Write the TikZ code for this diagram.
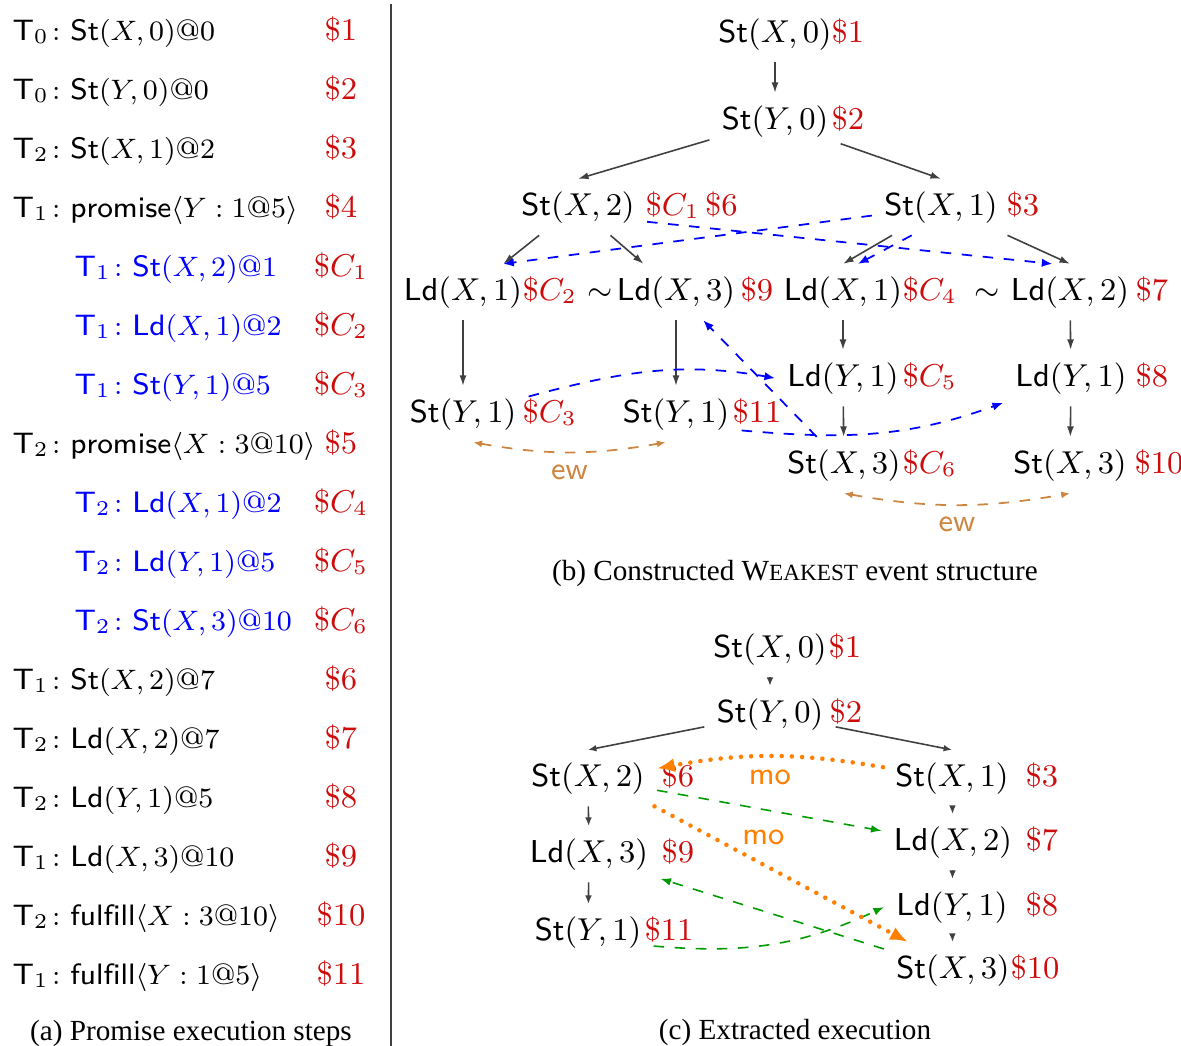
\documentclass[tikz,border=0pt]{standalone}
\usepackage{amsmath}
\usepackage{fontspec}
\usetikzlibrary{arrows.meta}
\newfontfamily\capfont{Liberation Serif}
\definecolor{cost}{RGB}{205, 12, 12}
\definecolor{prom}{RGB}{0, 0, 255}
\definecolor{edgecol}{RGB}{64, 64, 64}
\definecolor{ewcol}{RGB}{205, 133, 63}
\definecolor{mocol}{RGB}{255, 128, 0}
\definecolor{rfcol}{RGB}{0, 155, 0}
\newcommand{\St}{\mathsf{St}}
\newcommand{\Ld}{\mathsf{Ld}}
\newcommand{\thr}[1]{\mathsf{T}_{#1}\colon}
\newcommand{\prm}{\mathsf{promise}}
\newcommand{\ful}{\mathsf{fulfill}}

\tikzset{
  ev/.style={anchor=base},
  cst/.style={anchor=base west, inner sep=0pt, text=cost},
  stepl/.style={anchor=base west, inner sep=0pt, font=\fontsize{8.4}{10}\selectfont},
  stepc/.style={anchor=base, inner sep=0pt, text=cost, font=\fontsize{8.6}{10}\selectfont},
  po/.style={draw=edgecol, line width=0.45pt, -{Latex[length=3pt, width=2pt]}},
  posm/.style={po, -{Latex[length=2.4pt, width=1.9pt]}},
  prfw/.style={draw=prom, dashed, line width=0.5pt, -{Latex[length=3pt, width=2.4pt]}},
  ew/.style={draw=ewcol, dashed, line width=0.5pt,
    {Latex[length=2.5pt, width=2pt]}-{Latex[length=2.5pt, width=2pt]}},
  mo/.style={draw=mocol, line width=1.3pt, line cap=round, dash pattern=on 0pt off 2.9pt,
    -{Latex[length=5pt, width=4pt]}},
  rf/.style={draw=rfcol, dashed, line width=0.45pt, -{Latex[length=3pt, width=2.2pt]}},
  subcap/.style={anchor=base, inner sep=0pt, font=\capfont\fontsize{8.3}{10}\selectfont}
}

\begin{document}
\begin{tikzpicture}[x=0.1mm, y=0.1mm, font=\fontsize{9}{11}\selectfont]
  \useasboundingbox (0, 0) rectangle (1181, -1046);

  % (a) steps of the promise run
  \node[stepl] (s1) at (12, -40) {$\thr{0} \St(X,0)@0$};
  \node[stepc] (k1) at (341, -40) {$\$1$};
  \node[stepl] (s2) at (12, -99) {$\thr{0} \St(Y,0)@0$};
  \node[stepc] (k2) at (341, -99) {$\$2$};
  \node[stepl] (s3) at (12, -158) {$\thr{2} \St(X,1)@2$};
  \node[stepc] (k3) at (341, -158) {$\$3$};
  \node[stepl] (s4) at (12, -217) {$\thr{1} \prm\langle Y : 1@5\rangle$};
  \node[stepc] (k4) at (341, -217) {$\$4$};
  \node[stepl, text=prom] (s5) at (74, -276) {$\thr{1} \St(X,2)@1$};
  \node[stepc] (k5) at (341, -276) {$\$C_1$};
  \node[stepl, text=prom] (s6) at (74, -335) {$\thr{1} \Ld(X,1)@2$};
  \node[stepc] (k6) at (341, -335) {$\$C_2$};
  \node[stepl, text=prom] (s7) at (74, -394) {$\thr{1} \St(Y,1)@5$};
  \node[stepc] (k7) at (341, -394) {$\$C_3$};
  \node[stepl] (s8) at (12, -453) {$\thr{2} \prm\langle X : 3@10\rangle$};
  \node[stepc] (k8) at (341, -453) {$\$5$};
  \node[stepl, text=prom] (s9) at (74, -512) {$\thr{2} \Ld(X,1)@2$};
  \node[stepc] (k9) at (341, -512) {$\$C_4$};
  \node[stepl, text=prom] (s10) at (74, -571) {$\thr{2} \Ld(Y,1)@5$};
  \node[stepc] (k10) at (341, -571) {$\$C_5$};
  \node[stepl, text=prom] (s11) at (74, -630) {$\thr{2} \St(X,3)@10$};
  \node[stepc] (k11) at (341, -630) {$\$C_6$};
  \node[stepl] (s12) at (12, -689) {$\thr{1} \St(X,2)@7$};
  \node[stepc] (k12) at (341, -689) {$\$6$};
  \node[stepl] (s13) at (12, -748) {$\thr{2} \Ld(X,2)@7$};
  \node[stepc] (k13) at (341, -748) {$\$7$};
  \node[stepl] (s14) at (12, -807) {$\thr{2} \Ld(Y,1)@5$};
  \node[stepc] (k14) at (341, -807) {$\$8$};
  \node[stepl] (s15) at (12, -866) {$\thr{1} \Ld(X,3)@10$};
  \node[stepc] (k15) at (341, -866) {$\$9$};
  \node[stepl] (s16) at (12, -925) {$\thr{2} \ful\langle X : 3@10\rangle$};
  \node[stepc] (k16) at (341, -925) {$\$10$};
  \node[stepl] (s17) at (12, -984) {$\thr{1} \ful\langle Y : 1@5\rangle$};
  \node[stepc] (k17) at (341, -984) {$\$11$};
  \node[subcap] (capa) at (191, -1040) {(a) Promise execution steps};

  \draw[edgecol, line width=0.6pt] (391, -4) -- (391, -1046);

  % (b) event structure
  \node[ev] (X0b) at (775, -42) {$\St(X,0)$};
  \node[cst] (cX0b) at (831, -42) {$\$1$};
  \node[ev] (Y0b) at (775, -129) {$\St(Y,0)$};
  \node[cst] (cY0b) at (831, -129) {$\$2$};
  \node[ev] (X2b) at (578, -215) {$\St(X,2)$};
  \node[cst] (cX2b) at (645, -215) {$\$C_1\,\$6$};
  \node[ev] (X1b) at (941, -215) {$\St(X,1)$};
  \node[cst] (cX1b) at (1006, -215) {$\$3$};
  \node[ev] (LdAb) at (463, -300) {$\Ld(X,1)$};
  \node[cst] (cLdAb) at (522, -300) {$\$C_2$};
  \node[ev] (cf1) at (600, -300) {$\sim$};
  \node[ev] (LdBb) at (676, -300) {$\Ld(X,3)$};
  \node[cst] (cLdBb) at (740, -300) {$\$9$};
  \node[ev] (LdCb) at (843, -300) {$\Ld(X,1)$};
  \node[cst] (cLdCb) at (902, -300) {$\$C_4$};
  \node[ev] (cf2) at (987, -300) {$\sim$};
  \node[ev] (LdDb) at (1070, -300) {$\Ld(X,2)$};
  \node[cst] (cLdDb) at (1135, -300) {$\$7$};
  \node[ev] (LdEb) at (843, -386) {$\Ld(Y,1)$};
  \node[cst] (cLdEb) at (902, -386) {$\$C_5$};
  \node[ev] (LdFb) at (1071, -386) {$\Ld(Y,1)$};
  \node[cst] (cLdFb) at (1135, -386) {$\$8$};
  \node[ev] (StAb) at (463, -422) {$\St(Y,1)$};
  \node[cst] (cStAb) at (522, -422) {$\$C_3$};
  \node[ev] (StBb) at (676, -422) {$\St(Y,1)$};
  \node[cst] (cStBb) at (732, -422) {$\$11$};
  \node[ev] (StEb) at (844, -473) {$\St(X,3)$};
  \node[cst] (cStEb) at (902, -473) {$\$C_6$};
  \node[ev] (StFb) at (1070, -473) {$\St(X,3)$};
  \node[cst] (cStFb) at (1134, -473) {$\$10$};

  \draw[po] (X0b) -- (Y0b);
  \draw[po] (Y0b.196) -- (X2b.north);
  \draw[po] (Y0b.341) -- (X1b.north);
  \draw[po] (X2b.216) -- (LdAb.35);
  \draw[po] (X2b.319) -- (LdBb.139);
  \draw[po] (X1b.210) -- (LdCb.north);
  \draw[po] (X1b.337) -- (LdDb.north);
  \draw[po] (LdAb) -- (StAb);
  \draw[po] (LdBb) -- (StBb);
  \draw[po] (LdCb) -- (LdEb);
  \draw[po] (LdEb) -- (StEb);
  \draw[po] (LdDb) -- (LdFb);
  \draw[po] (LdFb) -- (StFb);

  \draw[prfw] (X1b.187) -- (LdAb.35);
  \draw[prfw] (X2b.348) -- (LdDb.122);
  \draw[prfw] (X1b.224) -- (LdCb.62);
  \draw[prfw] (StAb.15) to[out=15, in=170] (LdEb.west);
  \draw[prfw] (StEb.134) -- (LdBb.314);
  \draw[prfw] (StBb.346) to[out=-5, in=200] (LdFb.200);

  \draw[ew] (StAb.290) to[bend right=10] node[below, text=ewcol] {$\mathsf{ew}$} (StBb.250);
  \draw[ew] (StEb.south) to[bend right=10] node[below, text=ewcol] {$\mathsf{ew}$} (StFb.south);

  \node[subcap] (capb) at (795, -580) {(b) Constructed W{\fontsize{6.6}{8}\selectfont EAKEST} event structure};

  % (c) extracted execution
  \node[ev] (X0c) at (770, -657) {$\St(X,0)$};
  \node[cst] (cX0c) at (828, -657) {$\$1$};
  \node[ev] (Y0c) at (770, -722) {$\St(Y,0)$};
  \node[cst] (cY0c) at (829, -722) {$\$2$};
  \node[ev] (X2c) at (588, -786) {$\St(X,2)$};
  \node[cst] (cX2c) at (661, -786) {$\$6$};
  \node[ev] (X1c) at (952, -786) {$\St(X,1)$};
  \node[cst] (cX1c) at (1025, -786) {$\$3$};
  \node[ev] (LdX3c) at (589, -862) {$\Ld(X,3)$};
  \node[cst] (cLdX3c) at (661, -862) {$\$9$};
  \node[ev] (LdX2c) at (953, -850) {$\Ld(X,2)$};
  \node[cst] (cLdX2c) at (1025, -850) {$\$7$};
  \node[ev] (LdY1c) at (952, -915) {$\Ld(Y,1)$};
  \node[cst] (cLdY1c) at (1025, -915) {$\$8$};
  \node[ev] (StY1c) at (588, -940) {$\St(Y,1)$};
  \node[cst] (cStY1c) at (644, -940) {$\$11$};
  \node[ev] (StX3c) at (953, -978) {$\St(X,3)$};
  \node[cst] (cStX3c) at (1010, -978) {$\$10$};

  \draw[posm] (X0c) -- (Y0c);
  \draw[posm] (Y0c.191) -- (X2c.north);
  \draw[posm] (Y0c.349) -- (X1c.north);
  \draw[posm] (X2c) -- (LdX3c);
  \draw[posm] (LdX3c) -- (StY1c);
  \draw[posm] (X1c) -- (LdX2c);
  \draw[posm] (LdX2c) -- (LdY1c);
  \draw[posm] (LdY1c) -- (StX3c);

  \draw[rf] (X2c.350) -- (LdX2c.171);
  \draw[rf] (StX3c.163) -- (LdX3c.341);
  \draw[rf] (StY1c.348) to[out=-5, in=205] (LdY1c.west);

  \draw[mo] (X1c.171) to[bend right=10] node[below, text=mocol] {$\mathsf{mo}$} (X2c.8);
  \draw[mo] (X2c.337) -- node[pos=0.43, above=1.5pt, text=mocol] {$\mathsf{mo}$} (StX3c.148);

  \node[subcap] (capc) at (795, -1039) {(c) Extracted execution};
\end{tikzpicture}
\end{document}
